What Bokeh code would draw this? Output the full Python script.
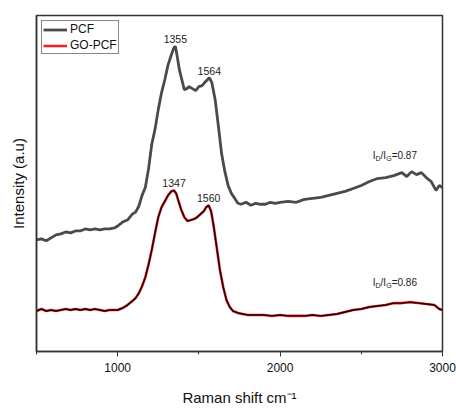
from bokeh.plotting import figure
from bokeh.models import (ColumnDataSource, Range1d, FixedTicker, Legend, LegendItem)
from bokeh.core.properties import value
from bokeh.embed import file_html
from bokeh.resources import INLINE

# ---- data ----
pcf_x = [500, 530, 560, 590, 620, 650, 680, 710, 740, 770, 800, 830, 860, 890, 920, 950, 980,
         1000, 1030, 1060, 1090, 1110, 1130, 1150, 1170, 1190, 1210, 1230, 1250, 1270, 1290,
         1310, 1330, 1345, 1355, 1365, 1380, 1395, 1410, 1425, 1440, 1460, 1480, 1500, 1520,
         1540, 1564, 1580, 1600, 1620, 1640, 1660, 1680, 1700, 1720, 1740, 1760, 1790, 1820,
         1850, 1880, 1910, 1940, 1970, 2000, 2050, 2100, 2150, 2200, 2250, 2300, 2350, 2400,
         2450, 2500, 2550, 2600, 2650, 2700, 2750, 2780, 2810, 2840, 2870, 2900, 2930, 2960,
         2980, 3000]
pcf_y = [113, 114, 112, 115, 118, 119, 121, 120, 122, 122, 124, 123, 124, 123, 124, 124, 125,
         127, 131, 133, 139, 141, 147, 158, 166, 185, 210, 225, 245, 262, 275,
         290, 300, 307, 309, 300, 285, 275, 265, 266, 268, 266, 264, 268, 269,
         273, 277, 272, 255, 228, 200, 182, 168, 160, 155, 150, 149, 151, 148,
         150, 149, 149, 151, 150, 151, 152, 151, 154, 155, 156, 158, 160, 162,
         165, 168, 172, 175, 176, 178, 181, 177, 182, 179, 181, 176, 172, 163,
         168, 166]

go_x = [500, 530, 560, 590, 620, 650, 680, 710, 740, 770, 800, 830, 860, 890, 920, 950, 980,
        1000, 1030, 1060, 1090, 1110, 1130, 1150, 1170, 1190, 1210, 1230, 1250, 1270, 1290,
        1310, 1330, 1347, 1360, 1375, 1390, 1410, 1430, 1450, 1470, 1490, 1510, 1530, 1545,
        1560, 1575, 1590, 1610, 1630, 1650, 1670, 1690, 1710, 1740, 1770, 1800, 1850, 1900,
        1950, 2000, 2050, 2100, 2150, 2200, 2250, 2300, 2350, 2400, 2450, 2500, 2550, 2600,
        2650, 2700, 2750, 2800, 2850, 2900, 2950, 2980, 3000]
go_y = [41, 43, 41, 42, 41, 42, 43, 42, 43, 42, 43, 42, 43, 42, 41, 42, 42,
        42, 44, 47, 51, 54, 59, 66, 75, 88, 103, 120, 136, 146, 152,
        158, 162, 163, 160, 152, 144, 136, 132, 133, 134, 136, 139, 142, 146,
        148, 142, 128, 105, 82, 65, 52, 45, 41, 39, 38, 37, 37, 37,
        36, 37, 36, 36, 36, 37, 36, 37, 38, 40, 42, 43, 45, 46,
        47, 49, 49, 50, 49, 48, 47, 43, 42]

pcf_peaks = [1355, 1564]
pcf_peak_heights = [309, 277]
go_peaks = [1347, 1560]
go_peak_heights = [163, 148]

ratio_x = [2570, 2570]
ratio_y = [198, 70]
ratio_vals = ["=0.87", "=0.86"]

x_ticks = [1000, 2000, 3000]
x_minor = [500, 1500, 2500]

FONT = "Liberation Sans"

p = figure(width=456, height=408, output_backend="svg", toolbar_location=None,
           x_range=Range1d(500, 3000), y_range=Range1d(0, 340),
           min_border_left=36, min_border_right=14, min_border_top=15, min_border_bottom=53)
p.xgrid.visible = False
p.ygrid.visible = False
p.outline_line_color = "#333333"
p.outline_line_width = 1.5
p.background_fill_color = "white"
p.border_fill_color = "white"

# lines
r_pcf = p.line(pcf_x, pcf_y, line_color="#4a4a4a", line_width=2.8)
r_go = p.line(go_x, go_y, line_color="#e8262c", line_width=2.6)
p.line(go_x, go_y, line_color="#1a0000", line_width=1.4)

# peak labels
src_p = ColumnDataSource(dict(x=pcf_peaks, y=pcf_peak_heights, t=[str(v) for v in pcf_peaks]))
src_g = ColumnDataSource(dict(x=go_peaks, y=go_peak_heights, t=[str(v) for v in go_peaks]))
for s in (src_p, src_g):
    p.text(x="x", y="y", text="t", source=s, text_font=value(FONT), text_font_size="10.5px",
           text_color="#222222", text_align="center", text_baseline="bottom", y_offset=-3)

# I_D/I_G ratio labels with subscripts
pieces = [("I", 0.0, 0, "10px"), ("D", 2.8, 3, "7px"), ("/I", 7.9, 0, "10px"),
          ("G", 13.5, 3, "7px")]
for txt, dx, dy, fs in pieces:
    p.text(x=ratio_x, y=ratio_y, text=[txt, txt], text_font=value(FONT), text_font_size=fs,
           text_color="#222222", text_align="left", text_baseline="middle",
           x_offset=dx, y_offset=dy)
p.text(x=ratio_x, y=ratio_y, text=ratio_vals, text_font=value(FONT), text_font_size="10px",
       text_color="#222222", text_align="left", text_baseline="middle", x_offset=19)

# axes
xa = p.xaxis[0]
xa.ticker = FixedTicker(ticks=x_ticks, minor_ticks=x_minor)
xa.axis_label = "Raman shift cm\u207b\u00b9"
xa.axis_label_text_font = FONT
xa.axis_label_text_font_size = "15px"
xa.axis_label_text_font_style = "normal"
xa.axis_label_text_color = "#111111"
xa.axis_label_standoff = 14
xa.major_label_text_font = FONT
xa.major_label_text_font_size = "12px"
xa.major_label_text_color = "#111111"
xa.major_label_standoff = 6
xa.major_tick_in = 0
xa.major_tick_out = 5
xa.minor_tick_in = 0
xa.minor_tick_out = 3
xa.axis_line_color = "#333333"
xa.axis_line_width = 1.5
xa.major_tick_line_color = "#333333"
xa.minor_tick_line_color = "#333333"

ya = p.yaxis[0]
ya.ticker = FixedTicker(ticks=[])
ya.axis_label = "Intensity (a.u)"
ya.axis_label_text_font = FONT
ya.axis_label_text_font_size = "15px"
ya.axis_label_text_font_style = "normal"
ya.axis_label_text_color = "#111111"
ya.axis_label_standoff = 10
ya.major_label_text_font_size = "0px"
ya.axis_line_color = "#333333"
ya.axis_line_width = 1.5

legend = Legend(items=[LegendItem(label="PCF", renderers=[r_pcf]),
                       LegendItem(label="GO-PCF", renderers=[r_go])],
                location="top_left", margin=5, padding=1, spacing=2,
                label_text_font=FONT, label_text_font_size="12px", label_text_color="#111111",
                label_height=13, glyph_height=13, glyph_width=24, label_standoff=3,
                border_line_color="#111111", border_line_width=1,
                background_fill_color="white", background_fill_alpha=1)
p.add_layout(legend, "center")

open("out.html", "w").write(file_html(p, INLINE))
